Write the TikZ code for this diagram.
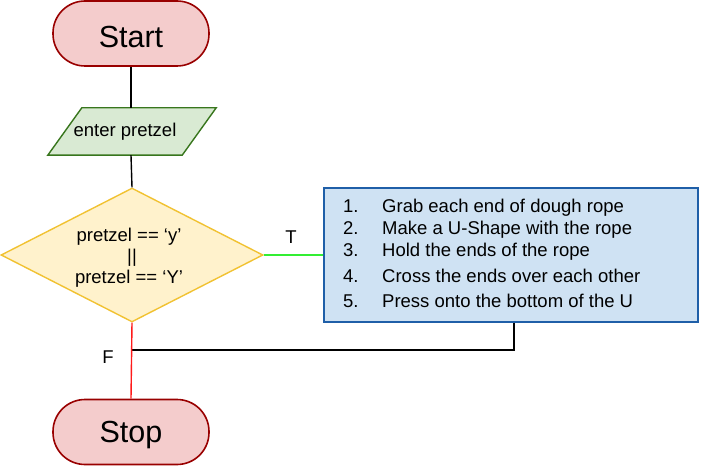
\documentclass[tikz,border=0pt]{standalone}
\usepackage{fontspec}
\setmainfont{Liberation Sans}
\usetikzlibrary{shapes.geometric}
\definecolor{termfill}{HTML}{F4CCCC}
\definecolor{termdraw}{HTML}{990000}
\definecolor{iofill}{HTML}{D9EAD3}
\definecolor{iodraw}{HTML}{38761D}
\definecolor{decfill}{HTML}{FFF2CC}
\definecolor{decdraw}{HTML}{F1C232}
\definecolor{procfill}{HTML}{CFE2F3}
\definecolor{procdraw}{HTML}{1F5FA8}
\definecolor{tline}{HTML}{33EE33}
\definecolor{fline}{HTML}{FF1A1A}
\tikzset{
  term/.style={draw=termdraw, fill=termfill, line width=1.6pt, rounded corners=32pt,
    minimum width=156pt, minimum height=65pt, inner sep=0pt, text height=28pt, text depth=0pt,
    font=\fontsize{30.5}{34}\selectfont},
  iocore/.style={minimum width=134pt, minimum height=47pt, inner sep=0pt},
  ioshape/.style={draw=iodraw, fill=iofill, line width=1.4pt, line join=miter},
  decbox/.style={diamond, draw=decdraw, fill=decfill, line width=1.4pt,
    minimum width=262pt, minimum height=134pt, inner sep=0pt, align=center,
    font=\fontsize{18.5}{21}\selectfont},
  procbox/.style={draw=procdraw, fill=procfill, line width=1.4pt,
    minimum width=374pt, minimum height=134pt, inner sep=0pt},
  txt/.style={inner sep=0pt, font=\fontsize{18.5}{21}\selectfont},
  conn/.style={line width=1.4pt, black},
}
\begin{document}
\begin{tikzpicture}[x=1pt,y=-1pt]
\useasboundingbox (0,0) rectangle (710,476);
\node[term] (start) at (131,33.5) {Start};
\node[iocore] (inp) at (132,131.5) {};
\draw[ioshape] ([xshift=17pt]inp.north west) -- ([xshift=17pt]inp.north east)
  -- ([xshift=-17pt]inp.south east) -- ([xshift=-17pt]inp.south west) -- cycle;
\node[txt, anchor=base] (inptxt) at (125,137) {enter pretzel};
\node[decbox] (dec) at (132,255) {};
\node[txt, anchor=base] (d1) at (129,241) {pretzel == ‘y’};
\node[txt, anchor=base] (d2) at (132,262) {||};
\node[txt, anchor=base] (d3) at (129,283) {pretzel == ‘Y’};
\node[procbox] (proc) at (511,255) {};
\node[txt, anchor=base west] (n1) at (343,212) {1.};
\node[txt, anchor=base west] (t1) at (382,212) {Grab each end of dough rope};
\node[txt, anchor=base west] (n2) at (343,234) {2.};
\node[txt, anchor=base west] (t2) at (382,234) {Make a U-Shape with the rope};
\node[txt, anchor=base west] (n3) at (343,256) {3.};
\node[txt, anchor=base west] (t3) at (382,256) {Hold the ends of the rope};
\node[txt, anchor=base west] (n4) at (343,282) {4.};
\node[txt, anchor=base west] (t4) at (382,282) {Cross the ends over each other};
\node[txt, anchor=base west] (n5) at (343,307) {5.};
\node[txt, anchor=base west] (t5) at (382,307) {Press onto the bottom of the U};
\node[term, text depth=6.5pt] (stop) at (131,432) {Stop};
\node[txt] (tl) at (291,237) {T};
\node[txt] (fl) at (108,357) {F};
\coordinate (join) at (131,350);
\draw[conn] (start.south) -- (start.south |- inp.north);
\draw[conn] (start.south |- inp.south) -- (dec.north);
\draw[conn, tline] (dec.east) -- (proc.west);
\draw[conn] ([xshift=3pt]proc.south) |- (join);
\draw[conn, fline] (dec.south) -- (stop.north);
\end{tikzpicture}
\end{document}
